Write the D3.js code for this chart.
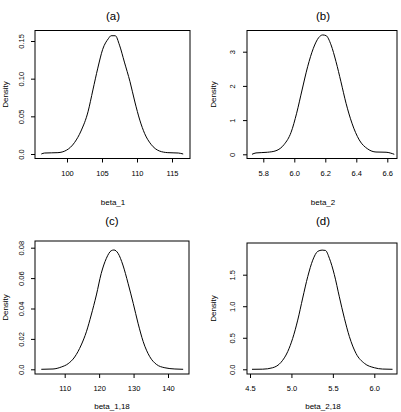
<!DOCTYPE html>
<html><head><meta charset="utf-8">
<script src="https://cdn.jsdelivr.net/npm/d3@7"></script>
<style>
html,body{margin:0;padding:0;background:#fff;}
svg{display:block;}
text{font-family:"Liberation Sans",Arial,Helvetica,sans-serif;fill:#000;}
</style></head>
<body>
<svg id="chart" width="401" height="412"></svg>
<script>
// ---- Data ----
const titles = ["(a)", "(b)", "(c)", "(d)"];
const xLabels = ["beta_1", "beta_2", "beta_1,18", "beta_2,18"];
const yLabel = "Density";

const aX = [96.33, 96.8, 98.7, 99.9, 101.1, 102.0, 103.0, 103.7, 104.4, 105.1, 105.9, 106.3, 106.9, 107.5, 108.2, 109.0, 109.7, 110.4, 111.1, 112.0, 113.2, 114.4, 115.9, 116.6];
const aY = [0.0, 0.0013, 0.0018, 0.0049, 0.0155, 0.0305, 0.056, 0.085, 0.114, 0.139, 0.153, 0.157, 0.157, 0.1445, 0.122, 0.096, 0.069, 0.045, 0.027, 0.0129, 0.004, 0.0018, 0.0013, 0.0];

const bX = [5.727, 5.753, 5.828, 5.882, 5.935, 5.979, 6.015, 6.05, 6.086, 6.123, 6.157, 6.183, 6.205, 6.237, 6.269, 6.301, 6.334, 6.372, 6.419, 6.474, 6.527, 6.592, 6.645];
const bY = [0.0, 0.04, 0.06, 0.105, 0.29, 0.64, 1.2, 1.88, 2.56, 3.1, 3.41, 3.49, 3.47, 3.2, 2.71, 2.12, 1.49, 0.91, 0.42, 0.155, 0.067, 0.06, 0.0];

const cX = [103.2, 106.6, 109.0, 111.0, 112.9, 114.8, 116.3, 117.7, 119.2, 120.6, 122.1, 123.5, 124.3, 125.5, 126.9, 128.4, 129.9, 131.3, 132.8, 134.7, 136.6, 139.1, 142.0, 144.4];
const cY = [0.0, 0.0002, 0.0015, 0.0037, 0.0081, 0.016, 0.0247, 0.0357, 0.0489, 0.063, 0.073, 0.078, 0.0785, 0.0763, 0.0686, 0.0566, 0.0434, 0.0303, 0.0182, 0.0083, 0.0033, 0.001, 0.0002, 0.0];

const dX = [4.524, 4.653, 4.774, 4.874, 4.955, 5.015, 5.076, 5.136, 5.197, 5.257, 5.318, 5.37, 5.41, 5.458, 5.518, 5.578, 5.639, 5.699, 5.78, 5.88, 6.0, 6.1, 6.22];
const dY = [0.0, 0.002, 0.025, 0.11, 0.28, 0.49, 0.78, 1.13, 1.47, 1.73, 1.87, 1.89, 1.885, 1.76, 1.5, 1.15, 0.81, 0.52, 0.25, 0.095, 0.025, 0.004, 0.0];

const aXTicks = [100, 105, 110, 115];
const aYTicks = [0, 0.05, 0.10, 0.15];
const aYTickLabels = ["0.0", "0.05", "0.10", "0.15"];
const bXTicks = [5.8, 6.0, 6.2, 6.4, 6.6];
const bYTicks = [0, 1, 2, 3];
const cXTicks = [110, 120, 130, 140];
const cYTicks = [0, 0.02, 0.04, 0.06, 0.08];
const cYTickLabels = ["0.0", "0.02", "0.04", "0.06", "0.08"];
const dXTicks = [4.5, 5.0, 5.5, 6.0];
const dYTicks = [0, 0.5, 1.0, 1.5];
const dYTickLabels = ["0.0", "0.5", "1.0", "1.5"];

// ---- Layout (pixel geometry of each panel) ----
const panels = [
  {x: aX, y: aY, xt: aXTicks, xtl: aXTicks.map(String), yt: aYTicks, ytl: aYTickLabels,
   box: [35, 30.5, 190, 158.5], xr: [67, 172], yr: [154, 41],
   title: titles[0], xlab: xLabels[0], tY: 20, xtlY: 176, xlabY: 205, ylabX: 8, ytlX: 24, cx: 113},
  {x: bX, y: bY, xt: bXTicks, xtl: bXTicks.map(d => d.toFixed(1)), yt: bYTicks, ytl: bYTicks.map(String),
   box: [247, 30.5, 397, 158.5], xr: [263.3, 387.3], yr: [154.3, 51.7],
   title: titles[1], xlab: xLabels[1], tY: 20, xtlY: 176, xlabY: 205, ylabX: 216, ytlX: 235, cx: 323},
  {x: cX, y: cY, xt: cXTicks, xtl: cXTicks.map(String), yt: cYTicks, ytl: cYTickLabels,
   box: [35, 241, 189, 374], xr: [64.7, 168], yr: [369.3, 247.7],
   title: titles[2], xlab: xLabels[2], tY: 225, xtlY: 391, xlabY: 409, ylabX: 8, ytlX: 24, cx: 112},
  {x: dX, y: dY, xt: dXTicks, xtl: dXTicks.map(d => d.toFixed(1)), yt: dYTicks, ytl: dYTickLabels,
   box: [247, 243, 397, 374], xr: [250, 374.3], yr: [369.3, 274.7],
   title: titles[3], xlab: xLabels[3], tY: 225, xtlY: 391, xlabY: 409, ylabX: 216, ytlX: 235, cx: 323}
];

const svg = d3.select("#chart");

panels.forEach(p => {
  const xs = d3.scaleLinear().domain([p.xt[0], p.xt[p.xt.length - 1]]).range(p.xr);
  const ys = d3.scaleLinear().domain([p.yt[0], p.yt[p.yt.length - 1]]).range(p.yr);
  const [x0, y0, x1, y1] = p.box;
  const g = svg.append("g");

  g.append("rect").attr("x", x0).attr("y", y0).attr("width", x1 - x0).attr("height", y1 - y0)
    .attr("fill", "none").attr("stroke", "#000").attr("stroke-width", 1);

  const xAxis = d3.axisBottom(xs).tickValues(p.xt).tickSize(4).tickFormat((d, i) => p.xtl[i]);
  const gx = g.append("g").attr("transform", `translate(0,${y1})`).call(xAxis);
  gx.select(".domain").remove();
  gx.selectAll(".tick line").attr("stroke", "#000");
  gx.selectAll(".tick text").attr("y", p.xtlY - y1).attr("dy", 0)
    .style("font-size", "7.5px").style("font-family", "Liberation Sans, Arial, sans-serif");

  const yAxis = d3.axisLeft(ys).tickValues(p.yt).tickSize(4).tickFormat((d, i) => p.ytl[i]);
  const gy = g.append("g").attr("transform", `translate(${x0},0)`).call(yAxis);
  gy.select(".domain").remove();
  gy.selectAll(".tick line").attr("stroke", "#000");
  gy.selectAll(".tick text")
    .attr("x", 0).attr("dy", 0).attr("text-anchor", "middle")
    .attr("transform", `translate(${p.ytlX - x0},0) rotate(-90)`)
    .style("font-size", "7.5px").style("font-family", "Liberation Sans, Arial, sans-serif");

  const line = d3.line().x((d, i) => xs(p.x[i])).y((d, i) => ys(p.y[i])).curve(d3.curveMonotoneX);
  g.append("path").datum(p.x).attr("d", line)
    .attr("fill", "none").attr("stroke", "#000").attr("stroke-width", 1);

  g.append("text").attr("x", p.cx).attr("y", p.tY).attr("text-anchor", "middle")
    .style("font-size", "11.5px").text(p.title);
  g.append("text").attr("x", p.cx).attr("y", p.xlabY).attr("text-anchor", "middle")
    .style("font-size", "8px").text(p.xlab);
  const cy = (y0 + y1) / 2;
  g.append("text").attr("transform", `translate(${p.ylabX},${cy}) rotate(-90)`)
    .attr("text-anchor", "middle").style("font-size", "8px").text(yLabel);
});
</script>
</body></html>
